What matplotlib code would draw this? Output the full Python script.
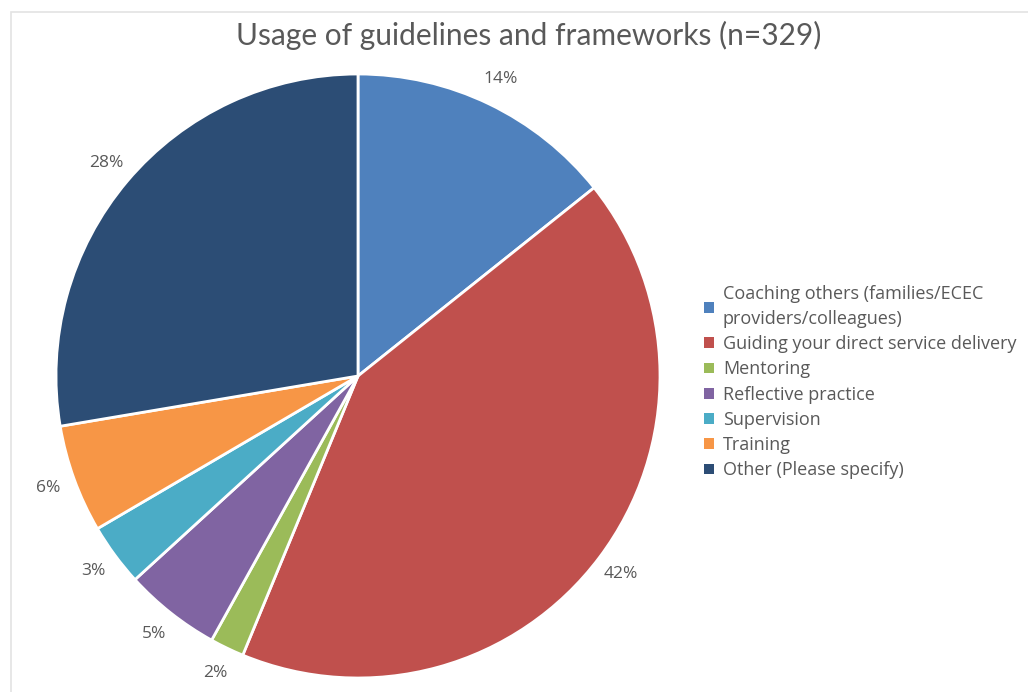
import matplotlib
matplotlib.use("Agg")
import matplotlib.pyplot as plt
from matplotlib.patches import Rectangle, Patch
import numpy as np

categories = [
    "Coaching others (families/ECEC\nproviders/colleagues)",
    "Guiding your direct service delivery",
    "Mentoring",
    "Reflective practice",
    "Supervision",
    "Training",
    "Other (Please specify)",
]
counts = [47, 138, 6, 17, 11, 19, 91]
colors = ["#4F81BD", "#C0504D", "#9BBB59", "#8064A2", "#4BACC6", "#F79646", "#2C4D75"]
title = "Usage of guidelines and frameworks (n=329)"

W, H = 1028, 692
plt.rcParams['font.family'] = ['Open Sans', 'DejaVu Sans']
fig = plt.figure(figsize=(W / 100, H / 100), dpi=100)

# light chart border
fig.patches.append(Rectangle((11 / W, -0.1), 1.2, (H - 11.5) / H + 0.1,
                             transform=fig.transFigure, fill=False,
                             edgecolor="#e3e3e3", linewidth=1.2))

cx, cy, r = 358, 376, 302
ax = fig.add_axes([(cx - r) / W, (H - cy - r) / H, 2 * r / W, 2 * r / H])
wedges, texts, autotexts = ax.pie(
    counts, colors=colors, startangle=90, counterclock=False, radius=1,
    wedgeprops=dict(edgecolor="white", linewidth=2),
    autopct=lambda p: f"{p:.0f}%", pctdistance=1.09,
    textprops=dict(color="#595959", fontsize=12.5),
)
ax.set_xlim(-1, 1)
ax.set_ylim(-1, 1)
ax.set_aspect("equal")
ax.axis("off")

fig.text(529 / W, 1 - 35 / H, title, ha="center", va="center",
         fontsize=21.5, color="#595959", fontfamily=["Lato", "DejaVu Sans"])

handles = [Patch(facecolor=c, edgecolor="none") for c in colors]
leg = fig.legend(handles, categories, loc="upper left",
                 bbox_to_anchor=(704 / W, 1 - 285 / H), frameon=False,
                 fontsize=13, labelcolor="#595959", handlelength=0.55,
                 handleheight=0.55, handletextpad=0.5, labelspacing=0.4,
                 borderaxespad=0, borderpad=0)
for t in leg.get_texts():
    t.set_linespacing(1.5)

fig.savefig("out.png", dpi=100)
